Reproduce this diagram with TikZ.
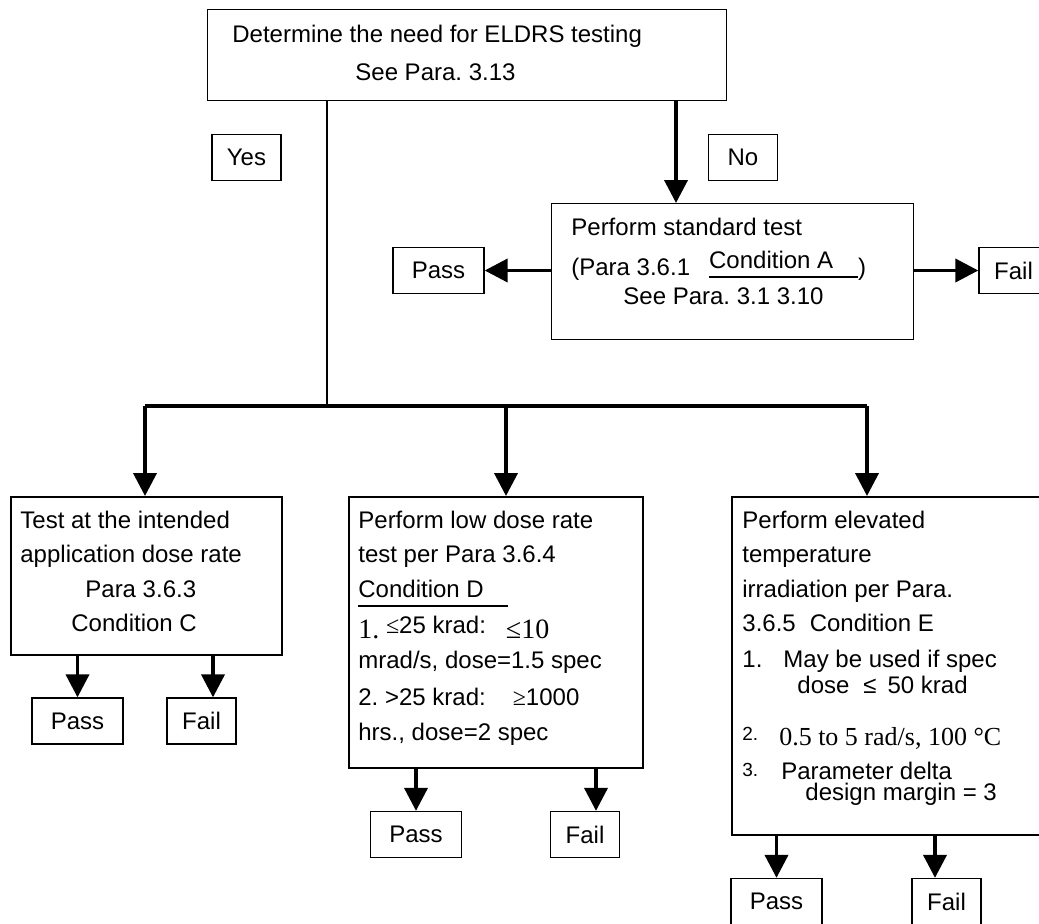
\documentclass[tikz,border=0pt]{standalone}
\usepackage{fontspec}
\setmainfont{Liberation Sans}
\newfontfamily\tnr{Liberation Serif}
\usetikzlibrary{arrows.meta, positioning, calc}
\frenchspacing

\begin{document}
\begin{tikzpicture}[x=0.5pt, y=-0.5pt,
    every node/.style={inner sep=0pt, font=\fontsize{12}{17}\selectfont},
    bigbox/.style={draw, line width=1pt, anchor=north west},
    lblbox/.style={draw, line width=0.65pt, minimum height=23pt, minimum width=34.5pt},
    passbox/.style={lblbox, minimum width=45.5pt},
    txt/.style={anchor=north west, align=left},
    arr/.style={line width=1.9pt, -{Triangle[length=11.5pt, width=11.5pt]}},
    busline/.style={line width=1.9pt}]
    \useasboundingbox (0,0) rectangle (1039,923);
    \clip (0,0) rectangle (1039,923);

    % decision on top
    \node[bigbox, line width=0.65pt, minimum width=259.5pt, minimum height=45.5pt] (need) at (207,9) {};
    \node[txt] (needtxt) at (232,24.6) {Determine the need for ELDRS testing\\[2pt]
        \hspace*{61.5pt}See Para. 3.13};
    \node[lblbox] (yes) at (246.5,157.5) {Yes};
    \node[lblbox] (no) at (743,157.5) {No};

    % standard test
    \node[bigbox, line width=0.65pt, minimum width=181pt, minimum height=68pt] (std) at (551,203) {};
    \node[txt] (stdtxt) at (571,217.6) {Perform standard test\\[3pt]
        (Para 3.6.1\hspace{9.5pt}\rlap{\rule[-1.5pt]{74.5pt}{1pt}}\raisebox{3.5pt}{Condition A}\hspace{12.5pt})\\[-2.5pt]
        \hspace*{26pt}See Para. 3.1 3.10};
    \node[passbox] (stdpass) at (438.5,270.5) {Pass};
    \node[lblbox] (stdfail) at (1013.5,270.5) {Fail};

    % the three conditions
    \node[bigbox, minimum width=135.5pt, minimum height=79pt] (boxc) at (10,496) {};
    \node[txt] (txtc) at (20,510.6) {Test at the intended\\
        application dose rate\\[0.5pt]
        \hspace*{32.5pt}Para 3.6.3\\
        \hspace*{25.5pt}Condition C};

    \node[bigbox, minimum width=147pt, minimum height=135.5pt] (boxd) at (348,496) {};
    \node[txt] (txtd) at (358,510.6) {Perform low dose rate\\
        test per Para 3.6.4\\[0.5pt]
        \rlap{\rule[-5pt]{75pt}{1pt}}Condition D\\[3.5pt]
        {\tnr\fontsize{14}{17}\selectfont 1.} \raisebox{2.5pt}{{\tnr ≤}25 krad:}\hspace{10pt}{\tnr\fontsize{14}{17}\selectfont ≤10}\\[-2pt]
        mrad/s, dose=1.5 spec\\[1.5pt]
        2. >25 krad:\hspace{13.5pt}{\tnr ≥}1000\\[0.5pt]
        hrs., dose=2 spec};

    \node[bigbox, minimum width=165pt, minimum height=169pt] (boxe) at (731,496) {};
    \node[txt] (txte) at (742,510.6) {Perform elevated\\
        temperature\\[0.5pt]
        irradiation per Para.\\
        3.6.5\hspace{7pt}Condition E\\[1pt]
        1.\hspace{10.5pt}May be used if spec\\[-4pt]
        \hspace*{27.5pt}dose\hspace{7pt}≤\hspace{5.5pt}50 krad\\[9pt]
        \raisebox{2.5pt}{\fontsize{9.5}{10}\selectfont 2.}\hspace{10.5pt}{\tnr\fontsize{13}{17}\selectfont 0.5 to 5 rad/s, 100 °C}\\
        \raisebox{1.5pt}{\fontsize{9.5}{10}\selectfont 3.}\hspace{11.5pt}Parameter delta\\[-6.5pt]
        \hspace*{31.5pt}design margin = 3};

    \node[passbox] (passc) at (77.5,721) {Pass};
    \node[lblbox] (failc) at (201.5,721) {Fail};
    \node[passbox] (passd) at (416,834.5) {Pass};
    \node[lblbox] (faild) at (585,834.5) {Fail};
    \node[passbox] (passe) at (776.5,901.5) {Pass};
    \node[lblbox] (faile) at (946.5,901.5) {Fail};

    % connectors
    \coordinate (split) at (327,406);
    \coordinate (toc) at (145,406);
    \coordinate (tod) at (506,406);
    \coordinate (toe) at (867,406);
    \coordinate (nox) at (676,150);

    \draw[line width=0.65pt] (need.south -| split) -- (split);
    \draw[arr] (need.south -| nox) -- (std.north -| nox);
    \draw[arr] (std.west |- stdpass) -- (stdpass.east);
    \draw[arr] (std.east |- stdfail) -- (stdfail.west);
    \draw[busline] (toc) -- (toe);
    \foreach \b/\s in {c/5.75pt, d/5.5pt, e/-5.75pt} {
        \draw[arr] (to\b) -- (to\b |- box\b.north);
        \coordinate (fx) at ([xshift=\s]fail\b.north);
        \draw[arr] (box\b.south -| pass\b) -- (pass\b.north);
        \draw[arr] (box\b.south -| fx) -- (fx);
    }
\end{tikzpicture}
\end{document}
